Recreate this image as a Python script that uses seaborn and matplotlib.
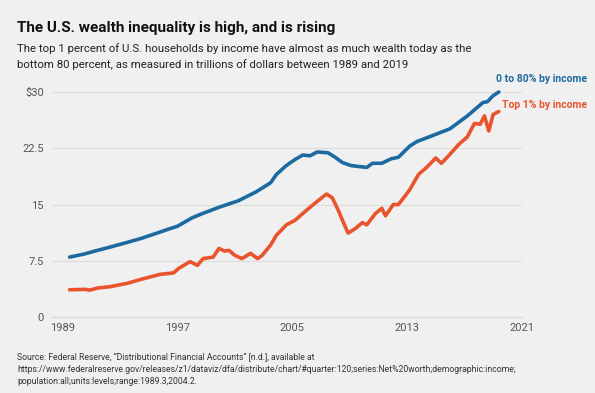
import pandas as pd
import matplotlib
matplotlib.use("Agg")
import matplotlib.pyplot as plt
import seaborn as sns

# bottom 80 percent, trillions of dollars
years_bottom80 = [1989.5, 1990.5, 1991.25, 1992.25, 1993.5, 1994.5, 1995.75, 1996.5,
                  1997.0, 1998.0, 1998.75, 2000.0, 2001.25, 2002.5, 2003.5, 2003.9,
                  2004.6, 2005.2, 2005.75, 2006.25, 2006.75, 2007.5, 2008.0, 2008.5,
                  2009.1, 2009.5, 2010.2, 2010.6, 2011.25, 2011.9, 2012.4, 2013.2,
                  2013.7, 2014.8, 2016.0, 2017.2, 2018.3, 2018.6, 2019.0, 2019.4]
wealth_bottom80 = [8.0, 8.4, 8.8, 9.3, 9.95, 10.5, 11.3, 11.8,
                   12.1, 13.2, 13.8, 14.7, 15.5, 16.7, 17.9, 19.0,
                   20.2, 21.0, 21.6, 21.5, 22.0, 21.9, 21.3, 20.6,
                   20.2, 20.1, 19.95, 20.5, 20.5, 21.1, 21.3, 22.8,
                   23.4, 24.2, 25.1, 26.8, 28.6, 28.7, 29.5, 30.0]

# top 1 percent
years_top1 = [1989.5, 1990.6, 1990.9, 1991.5, 1992.3, 1993.5, 1994.6, 1995.8, 1996.75,
              1997.1, 1997.9, 1998.4, 1998.8, 1999.5, 1999.9, 2000.3, 2000.6, 2001.0,
              2001.5, 2002.1, 2002.6, 2002.9, 2003.5, 2003.9, 2004.6, 2005.2, 2006.1,
              2006.8, 2007.4, 2007.8, 2008.2, 2008.6, 2008.9, 2009.4, 2009.9, 2010.2,
              2010.8, 2011.25, 2011.5, 2012.05, 2012.4, 2012.75, 2013.2, 2013.8, 2014.4,
              2015.0, 2015.4, 2015.9, 2016.6, 2017.2, 2017.7, 2018.1, 2018.4, 2018.7,
              2019.0, 2019.4]
wealth_top1 = [3.65, 3.7, 3.6, 3.9, 4.05, 4.5, 5.1, 5.7, 5.9,
               6.5, 7.4, 6.9, 7.8, 8.0, 9.15, 8.8, 8.9, 8.25,
               7.8, 8.5, 7.8, 8.2, 9.6, 10.9, 12.3, 12.9, 14.4,
               15.5, 16.4, 15.9, 14.3, 12.5, 11.2, 11.8, 12.6, 12.3,
               13.8, 14.5, 13.5, 15.0, 15.0, 15.85, 17.0, 19.0, 20.0,
               21.2, 20.5, 21.5, 23.0, 24.0, 25.8, 25.7, 26.8, 24.8,
               27.0, 27.4]

x_ticks = [1989, 1997, 2005, 2013, 2021]
y_ticks = [0, 7.5, 15, 22.5, 30]
y_labels = ["0", "7.5", "15", "22.5", "$30"]

BLUE = "#1d6aa0"
RED = "#e9542c"
BG = "#f0f0f0"

sns.set_style("white")
plt.rcParams["font.family"] = ["Roboto", "DejaVu Sans"]

df_b = pd.DataFrame({"year": years_bottom80, "wealth": wealth_bottom80})
df_t = pd.DataFrame({"year": years_top1, "wealth": wealth_top1})

fig = plt.figure(figsize=(5.95, 3.93), dpi=100, facecolor=BG)
ax = fig.add_axes([0.088, 0.193, 0.789, 0.573])
ax.set_facecolor(BG)

sns.lineplot(data=df_b, x="year", y="wealth", ax=ax, color=BLUE, linewidth=2.6, clip_on=False)
sns.lineplot(data=df_t, x="year", y="wealth", ax=ax, color=RED, linewidth=2.6, clip_on=False)

ax.set_xlim(1988.3, 2021)
ax.set_ylim(0, 30)
ax.set_xticks(x_ticks)
ax.set_yticks(y_ticks)
ax.set_yticklabels(y_labels)
ax.set_xlabel("")
ax.set_ylabel("")
for s in ["top", "right", "left"]:
    ax.spines[s].set_visible(False)
ax.spines["bottom"].set_color("#d8d8d8")
ax.grid(axis="y", color="#dcdcdc", linewidth=0.8)
ax.set_axisbelow(True)
ax.tick_params(axis="y", length=0, pad=6, labelsize=8, labelcolor="#555555")
ax.tick_params(axis="x", direction="in", length=3, color="#d8d8d8", pad=4,
               labelsize=8, labelcolor="#555555")

ax.text(2019.2, 31.7, "0 to 80% by income", color=BLUE, fontsize=7.5,
        fontweight="bold", ha="left", va="center", clip_on=False)
ax.text(2019.6, 28.3, "Top 1% by income", color=RED, fontsize=7.5,
        fontweight="bold", ha="left", va="center", clip_on=False)

fig.text(0.029, 0.918, "The U.S. wealth inequality is high, and is rising",
         fontsize=11, fontweight="bold", color="#111111")
fig.text(0.029, 0.868, "The top 1 percent of U.S. households by income have almost as much wealth today as the",
         fontsize=8.2, color="#222222")
fig.text(0.029, 0.827, "bottom 80 percent, as measured in trillions of dollars between 1989 and 2019",
         fontsize=8.2, color="#222222")

source = ("Source: Federal Reserve, \u201cDistributional Financial Accounts\u201d [n.d.], available at\n"
          "https://www.federalreserve.gov/releases/z1/dataviz/dfa/distribute/chart/#quarter:120;"
          "series:Net%20worth;demographic:income;\n"
          "population:all;units:levels;range:1989.3,2004.2.")
fig.text(0.029, 0.018, source, fontsize=6.2, color="#333333", linespacing=1.45, va="bottom")

fig.savefig("out.png", dpi=100, facecolor=BG)
